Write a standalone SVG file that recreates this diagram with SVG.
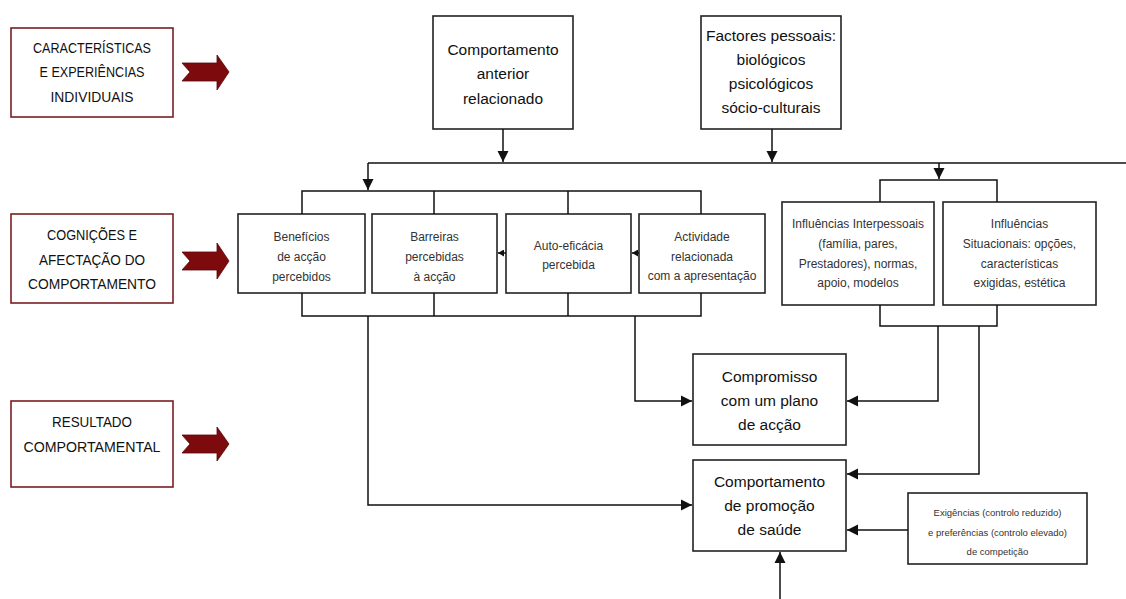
<svg xmlns="http://www.w3.org/2000/svg" width="1126" height="599" viewBox="0 0 1126 599">
<style>
.bg{fill:#fff}
.lbox{fill:#fff;stroke:#7a1f22;stroke-width:1.6}
.box{fill:#fff;stroke:#222;stroke-width:1.6}
.bigarrow{fill:#7d0a0c;stroke:#5a0608;stroke-width:0.8}
.conn{fill:none;stroke:#111;stroke-width:1.5}
.lt{font-family:"Liberation Sans",Arial,sans-serif;font-size:15px;fill:#111;text-anchor:middle}
.mt{font-family:"Liberation Sans",Arial,sans-serif;font-size:15.5px;fill:#111;text-anchor:middle}
.st{font-family:"Liberation Sans",Arial,sans-serif;font-size:12px;fill:#333;text-anchor:middle}
.xt{font-family:"Liberation Sans",Arial,sans-serif;font-size:9.5px;fill:#333;text-anchor:middle}
</style>
<defs>
<marker id="ah" markerUnits="userSpaceOnUse" markerWidth="12" markerHeight="12" refX="11" refY="6" orient="auto">
<path d="M0,0.5 L11,6 L0,11.5 z" fill="#111"/>
</marker>
<marker id="ahs" markerUnits="userSpaceOnUse" markerWidth="7" markerHeight="7" refX="6" refY="3.5" orient="auto">
<path d="M0,0 L6,3.5 L0,7 z" fill="#111"/>
</marker>
</defs>
<rect class="bg" x="0" y="0" width="1126" height="599"/>

<g id="legend-caracteristicas">
<rect class="lbox" x="11" y="28" width="162" height="89"/>
<text class="lt" x="92" y="53" textLength="118" lengthAdjust="spacingAndGlyphs">CARACTERÍSTICAS</text>
<text class="lt" x="92" y="77" textLength="105" lengthAdjust="spacingAndGlyphs">E EXPERIÊNCIAS</text>
<text class="lt" x="92" y="102" textLength="83" lengthAdjust="spacingAndGlyphs">INDIVIDUAIS</text>
<path class="bigarrow" d="M182,63 L217,63 L217,55 L229,72 L217,90 L217,81 L182,81 L190,72 z"/>
</g>
<g id="legend-cognicoes">
<rect class="lbox" x="11" y="214" width="162" height="89"/>
<text class="lt" x="92" y="240" textLength="90" lengthAdjust="spacingAndGlyphs">COGNIÇÕES E</text>
<text class="lt" x="92" y="265" textLength="106" lengthAdjust="spacingAndGlyphs">AFECTAÇÃO DO</text>
<text class="lt" x="92" y="289" textLength="128" lengthAdjust="spacingAndGlyphs">COMPORTAMENTO</text>
<path class="bigarrow" d="M182,252 L217,252 L217,243 L229,261 L217,279 L217,270 L182,270 L190,261 z"/>
</g>
<g id="legend-resultado">
<rect class="lbox" x="11" y="401" width="162" height="86"/>
<text class="lt" x="92" y="427" textLength="80" lengthAdjust="spacingAndGlyphs">RESULTADO</text>
<text class="lt" x="92" y="452" textLength="137" lengthAdjust="spacingAndGlyphs">COMPORTAMENTAL</text>
<path class="bigarrow" d="M182,435 L217,435 L217,427 L229,444 L217,461 L217,453 L182,453 L190,444 z"/>
</g>

<g id="node-comportamento-anterior">
<rect class="box" x="433" y="16" width="140" height="113"/>
<text class="mt" x="503" y="55">Comportamento</text>
<text class="mt" x="503" y="79">anterior</text>
<text class="mt" x="503" y="104">relacionado</text>
</g>
<g id="node-factores-pessoais">
<rect class="box" x="701" y="16" width="140" height="113"/>
<text class="mt" x="771" y="41">Factores pessoais:</text>
<text class="mt" x="771" y="65">biológicos</text>
<text class="mt" x="771" y="89">psicológicos</text>
<text class="mt" x="771" y="113">sócio-culturais</text>
</g>

<g id="node-beneficios">
<rect class="box" x="238" y="214" width="127" height="79"/>
<text class="st" x="301.5" y="241">Benefícios</text>
<text class="st" x="301.5" y="261">de acção</text>
<text class="st" x="301.5" y="281">percebidos</text>
</g>
<g id="node-barreiras">
<rect class="box" x="372" y="214" width="125" height="79"/>
<text class="st" x="434.5" y="241">Barreiras</text>
<text class="st" x="434.5" y="261">percebidas</text>
<text class="st" x="434.5" y="281">à acção</text>
</g>
<g id="node-autoeficacia">
<rect class="box" x="506" y="214" width="125" height="79"/>
<text class="st" x="568.5" y="250">Auto-eficácia</text>
<text class="st" x="568.5" y="269">percebida</text>
</g>
<g id="node-actividade">
<rect class="box" x="639" y="214" width="126" height="79"/>
<text class="st" x="702" y="241">Actividade</text>
<text class="st" x="702" y="261">relacionada</text>
<text class="st" x="702" y="280">com a apresentação</text>
</g>

<g id="node-influencias-interpessoais">
<rect class="box" x="782" y="202" width="152" height="103"/>
<text class="st" x="858" y="228">Influências Interpessoais</text>
<text class="st" x="858" y="248">(família, pares,</text>
<text class="st" x="858" y="268">Prestadores), normas,</text>
<text class="st" x="858" y="287">apoio, modelos</text>
</g>
<g id="node-influencias-situacionais">
<rect class="box" x="943" y="202" width="153" height="103"/>
<text class="st" x="1019.5" y="228">Influências</text>
<text class="st" x="1019.5" y="248">Situacionais: opções,</text>
<text class="st" x="1019.5" y="268">características</text>
<text class="st" x="1019.5" y="287">exigidas, estética</text>
</g>

<g id="node-compromisso">
<rect class="box" x="693" y="354" width="153" height="91"/>
<text class="mt" x="769.5" y="382">Compromisso</text>
<text class="mt" x="769.5" y="406">com um plano</text>
<text class="mt" x="769.5" y="430">de acção</text>
</g>
<g id="node-comportamento-promocao">
<rect class="box" x="693" y="460" width="153" height="91"/>
<text class="mt" x="769.5" y="487">Comportamento</text>
<text class="mt" x="769.5" y="511">de promoção</text>
<text class="mt" x="769.5" y="535">de saúde</text>
</g>
<g id="node-exigencias">
<rect class="box" x="908" y="493" width="179" height="71"/>
<text class="xt" x="997.5" y="516">Exigências (controlo reduzido)</text>
<text class="xt" x="997.5" y="536">e preferências (controlo elevado)</text>
<text class="xt" x="997.5" y="555">de competição</text>
</g>

<g id="connectors">
<path class="conn" d="M503,129 V162" marker-end="url(#ah)"/>
<path class="conn" d="M772,129 V162" marker-end="url(#ah)"/>
<path class="conn" d="M368,163 H1126"/>
<path class="conn" d="M368,163 V190" marker-end="url(#ah)"/>
<path class="conn" d="M939,163 V179" marker-end="url(#ah)"/>
<path class="conn" d="M302,214 V191 H701 V214 M434,191 V214 M568,191 V214"/>
<path class="conn" d="M302,293 V316 H701 V293 M434,293 V316 M568,293 V316"/>
<path class="conn" d="M368,316 V505 H692" marker-end="url(#ah)"/>
<path class="conn" d="M635,316 V401 H692" marker-end="url(#ah)"/>
<path class="conn" d="M880,202 V180 H997 V202"/>
<path class="conn" d="M880,305 V326 H997 V305"/>
<path class="conn" d="M938,326 V401 H847" marker-end="url(#ah)"/>
<path class="conn" d="M979,326 V474 H847" marker-end="url(#ah)"/>
<path class="conn" d="M908,530 H847" marker-end="url(#ah)"/>
<path class="conn" d="M780,599 V552" marker-end="url(#ah)"/>
<path class="conn" d="M506,253 H498" marker-end="url(#ahs)"/>
<path class="conn" d="M639,253 H632" marker-end="url(#ahs)"/>
</g>
</svg>
